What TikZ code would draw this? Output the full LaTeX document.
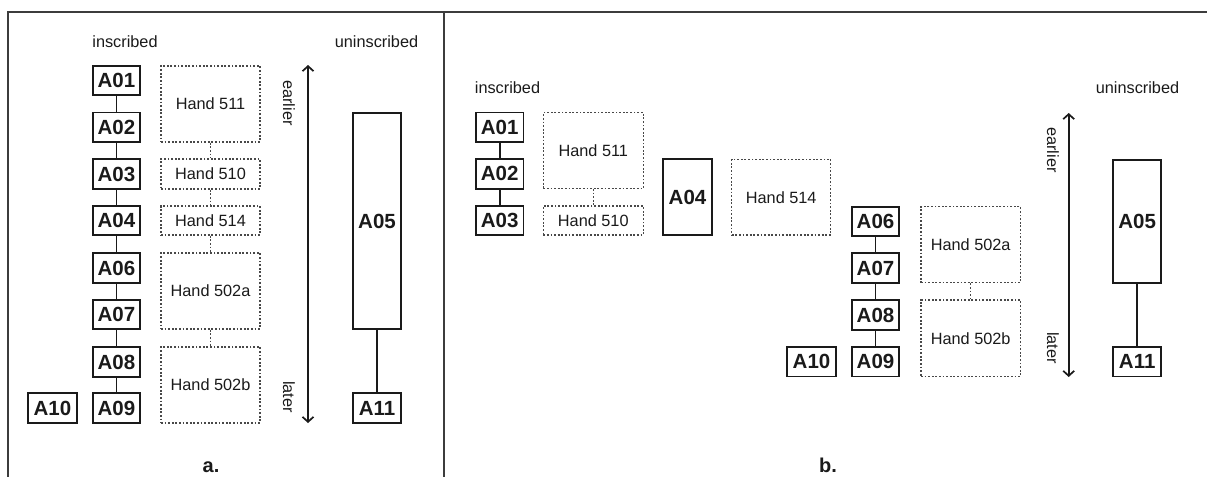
\documentclass[tikz,border=0pt]{standalone}
\usepackage{fontspec}
\setmainfont{Liberation Sans}
\usetikzlibrary{arrows.meta}
\definecolor{ink}{HTML}{1A1A1A}
\tikzset{
  abox/.style={draw=ink, line width=1.9pt, rectangle, inner sep=0pt, text=ink,
    font=\fontsize{20.5}{24}\selectfont\bfseries, minimum width=47.5pt, minimum height=29.5pt},
  hbox/.style={draw=ink!80, dash pattern=on 1.8pt off 1.8pt, line width=1.4pt, rectangle, inner sep=0pt, text=ink,
    font=\fontsize{16.3}{19}\selectfont, minimum width=99pt},
  lbl/.style={text=ink, font=\fontsize{16.3}{19}\selectfont, inner sep=0pt},
  plbl/.style={text=ink, font=\fontsize{20}{24}\selectfont\bfseries, inner sep=0pt},
  solidlink/.style={draw=ink, line width=1.6pt},
  dotlink/.style={draw=ink!80, dash pattern=on 1.8pt off 1.8pt, line width=1.4pt},
  timearrow/.style={draw=ink, line width=1.7pt, {Straight Barb[length=5pt,width=11pt]}-{Straight Barb[length=5pt,width=11pt]}},
  frame/.style={draw=ink!85, line width=1.9pt}
}
\begin{document}
\begin{tikzpicture}[x=1pt,y=-1pt]
\useasboundingbox (0,0) rectangle (1207,477);
% frame
\draw[frame] (1207,12) -- (8,12) -- (8,477);
\draw[frame] (444,12) -- (444,477);

% ---------------- panel a ----------------
\node[lbl] (ains) at (125,42) {inscribed};
\node[lbl] (auns) at (376.5,42) {uninscribed};
\node[abox] (aA01) at (116.5,80.5) {A01};
\node[abox] (aA02) at (116.5,127.2) {A02};
\node[abox] (aA03) at (116.5,174) {A03};
\node[abox] (aA04) at (116.5,220.5) {A04};
\node[abox] (aA06) at (116.5,268) {A06};
\node[abox] (aA07) at (116.5,314.5) {A07};
\node[abox] (aA08) at (116.5,362) {A08};
\node[abox] (aA09) at (116.5,408) {A09};
\node[abox, minimum width=49pt] (aA10) at (52.5,408) {A10};
\node[hbox, minimum height=76pt] (aH511) at (210.5,104) {Hand 511};
\node[hbox, minimum height=30pt] (aH510) at (210.5,174) {Hand 510};
\node[hbox, minimum height=29pt] (aH514) at (210.5,220.5) {Hand 514};
\node[hbox, minimum height=76pt] (aH502a) at (210.5,291) {Hand 502a};
\node[hbox, minimum height=76pt] (aH502b) at (210.5,385) {Hand 502b};
\node[abox, minimum width=48pt, minimum height=216pt] (aA05) at (377,221) {A05};
\node[abox, minimum width=48pt] (aA11) at (377,408) {A11};
\coordinate (aTop) at (308,65);
\coordinate (aBot) at (308,423);
\draw[timearrow] (aTop) -- (aBot);
\node[lbl, rotate=-90] (aEarl) at (289,103) {earlier};
\node[lbl, rotate=-90] (aLate) at (289,397) {later};
\node[plbl] (alab) at (211,467) {a.};
\draw[solidlink] (aA01) -- (aA02) -- (aA03) -- (aA04) -- (aA06) -- (aA07) -- (aA08) -- (aA09);
\draw[solidlink] (aA05) -- (aA11);
\draw[dotlink] (aH511) -- (aH510);
\draw[dotlink] (aH510) -- (aH514);
\draw[dotlink] (aH514) -- (aH502a);
\draw[dotlink] (aH502a) -- (aH502b);

% ---------------- panel b ----------------
\node[lbl] (bins) at (507.5,88) {inscribed};
\node[lbl] (buns) at (1137.5,88) {uninscribed};
\node[abox] (bA01) at (499.7,127.2) {A01};
\node[abox] (bA02) at (499.7,173.8) {A02};
\node[abox] (bA03) at (499.7,220.5) {A03};
\node[hbox, minimum width=100pt, minimum height=75.6pt] (bH511) at (593.3,150.5) {Hand 511};
\node[hbox, minimum width=100pt, minimum height=29pt] (bH510) at (593.3,220.5) {Hand 510};
\node[abox, minimum width=48.4pt, minimum height=75.7pt] (bA04) at (687.5,197.2) {A04};
\node[hbox, minimum height=75.7pt] (bH514) at (781.2,197.2) {Hand 514};
\node[abox] (bA06) at (875.5,221.3) {A06};
\node[abox] (bA07) at (875.5,268) {A07};
\node[abox] (bA08) at (875.5,315) {A08};
\node[abox] (bA09) at (875.5,361.7) {A09};
\node[abox, minimum width=48.4pt] (bA10) at (811.5,361.7) {A10};
\node[hbox, minimum width=99.3pt, minimum height=76pt] (bH502a) at (970.7,244.7) {Hand 502a};
\node[hbox, minimum width=99.3pt, minimum height=76.7pt] (bH502b) at (970.7,338.3) {Hand 502b};
\node[abox, minimum width=47.7pt, minimum height=122.7pt] (bA05) at (1137.2,221.3) {A05};
\node[abox, minimum width=47.7pt] (bA11) at (1137.2,361.7) {A11};
\coordinate (bTop) at (1068.7,113);
\coordinate (bBot) at (1068.7,377);
\draw[timearrow] (bTop) -- (bBot);
\node[lbl, rotate=-90] (bEarl) at (1053,150) {earlier};
\node[lbl, rotate=-90] (bLate) at (1053,348) {later};
\node[plbl] (blab) at (828,465) {b.};
\draw[solidlink] (bA01) -- (bA02) -- (bA03);
\draw[solidlink] (bA06) -- (bA07) -- (bA08) -- (bA09);
\draw[solidlink] (bA05) -- (bA11);
\draw[dotlink] (bH511) -- (bH510);
\draw[dotlink] (bH502a) -- (bH502b);
\end{tikzpicture}
\end{document}
